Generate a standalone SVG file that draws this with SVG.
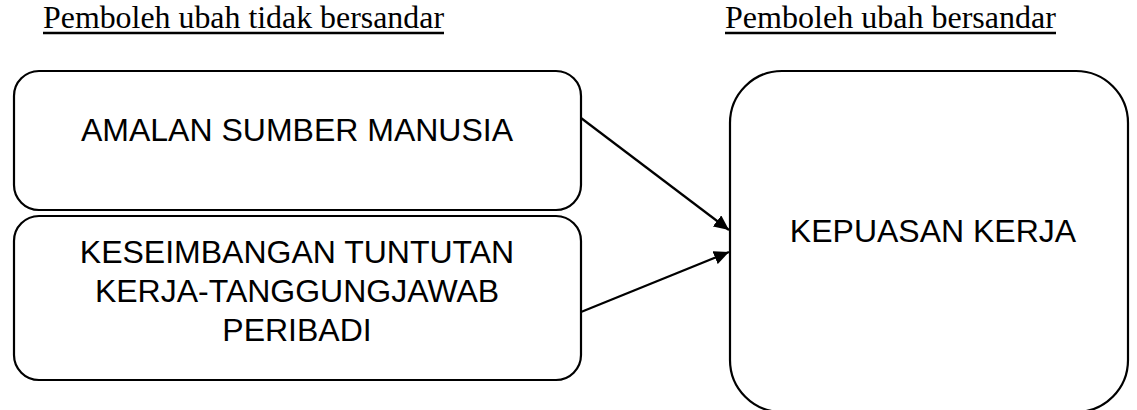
<svg xmlns="http://www.w3.org/2000/svg" width="1137" height="410" viewBox="0 0 1137 410">
  <style>
    .box { fill: #ffffff; stroke: #000000; stroke-width: 2.2; }
    .lbl { font-family: "Liberation Sans", Arial, sans-serif; font-size: 32px; fill: #000000; text-anchor: middle; }
    .hdr { font-family: "Liberation Serif", "Times New Roman", serif; font-size: 32px; fill: #000000; }
    .uline { stroke: #000000; stroke-width: 2.5; }
    .conn { stroke: #000000; stroke-width: 2.2; fill: none; marker-end: url(#arrow); }
  </style>
  <defs>
    <marker id="arrow" markerUnits="userSpaceOnUse" markerWidth="16" markerHeight="14" refX="15" refY="7" orient="auto">
      <path d="M0,0 L15,7 L0,14 Z" fill="#000000"/>
    </marker>
  </defs>
  <rect width="1137" height="410" fill="#ffffff"/>

  <g id="header-independent">
    <text class="hdr" x="43" y="28" textLength="401" lengthAdjust="spacingAndGlyphs">Pemboleh ubah tidak bersandar</text>
    <line class="uline" x1="43" y1="33" x2="444" y2="33"/>
  </g>
  <g id="header-dependent">
    <text class="hdr" x="725" y="28" textLength="331" lengthAdjust="spacingAndGlyphs">Pemboleh ubah bersandar</text>
    <line class="uline" x1="725" y1="33" x2="1056" y2="33"/>
  </g>

  <g id="node-amalan">
    <rect class="box" x="14" y="71" width="567" height="139" rx="25" ry="25"/>
    <text class="lbl" x="297" y="141">AMALAN SUMBER MANUSIA</text>
  </g>

  <g id="node-keseimbangan">
    <rect class="box" x="14" y="216" width="567" height="164" rx="25" ry="25"/>
    <text class="lbl" x="297" y="263">KESEIMBANGAN TUNTUTAN</text>
    <text class="lbl" x="297" y="302">KERJA-TANGGUNGJAWAB</text>
    <text class="lbl" x="297" y="341">PERIBADI</text>
  </g>

  <g id="node-kepuasan">
    <rect class="box" x="730" y="71" width="398" height="341" rx="52" ry="52"/>
    <text class="lbl" x="933" y="242">KEPUASAN KERJA</text>
  </g>

  <g id="connectors">
    <line class="conn" x1="581" y1="118" x2="729" y2="230"/>
    <line class="conn" x1="581" y1="312" x2="729" y2="252"/>
  </g>
</svg>
